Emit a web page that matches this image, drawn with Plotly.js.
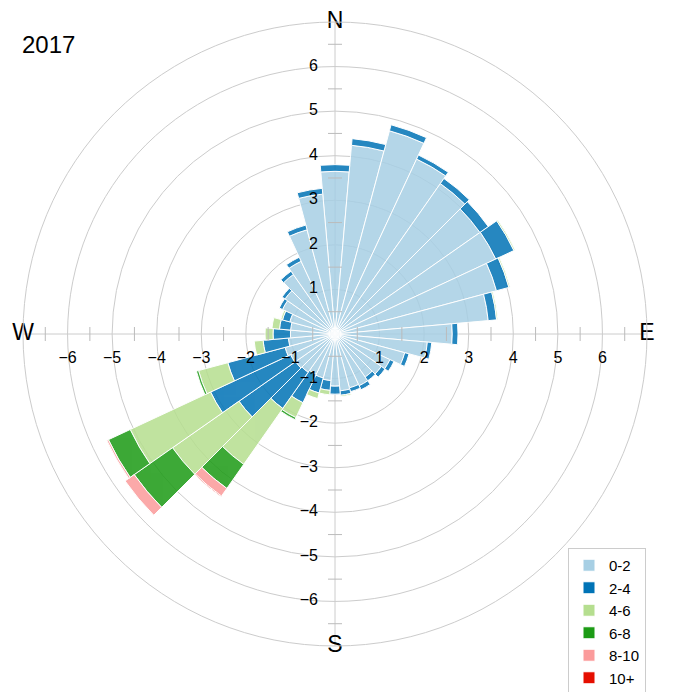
<!DOCTYPE html>
<html>
<head>
<meta charset="utf-8">
<script src="https://cdn.plot.ly/plotly-3.0.1.min.js"></script>
<style>html,body{margin:0;padding:0;background:#fff;}#chart{width:679px;height:692px;}</style>
</head>
<body>
<div id="chart"></div>
<script>
// Wind directions (degrees, clockwise from North)
const directions = [0,10,20,30,40,50,60,70,80,90,100,110,120,130,140,150,160,170,180,190,200,210,220,230,240,250,260,270,280,290,300,310,320,330,340,350];
// Speed bins (stacked)
const binNames = ["0-2","2-4","4-6","6-8","8-10","10+"];
const speed0_2  = [3.65,4.25,4.72,4.33,4.12,3.97,3.98,3.75,3.45,2.63,2.08,1.62,1.36,1.27,1.18,1.28,1.25,1.28,1.17,1.05,1.02,1.00,1.05,1.08,1.10,1.16,1.05,1.00,1.00,1.05,1.30,1.37,1.63,1.80,2.42,3.15];
const speed2_4  = [0.15,0.15,0.14,0.10,0.14,0.23,0.45,0.29,0.19,0.13,0.10,0.10,0.10,0.10,0.10,0.10,0.09,0.10,0.18,0.22,0.35,0.70,0.99,1.55,1.98,1.33,0.57,0.39,0.25,0.17,0.08,0.08,0.09,0.10,0.11,0.13];
const speed4_6  = [0,0,0,0,0,0,0.03,0.03,0.03,0,0,0,0,0,0,0,0,0.03,0,0.10,0.13,0.37,1.53,1.82,1.99,0.68,0.20,0.18,0.17,0.04,0,0,0,0,0,0];
const speed6_8  = [0,0,0,0,0,0,0,0,0,0,0,0,0,0,0,0,0,0,0,0,0,0.05,0.66,1.05,0.54,0.05,0,0,0,0,0,0,0,0,0,0];
const speed8_10 = [0,0,0,0,0,0,0,0,0,0,0,0,0,0,0,0,0,0,0,0,0,0,0.21,0.25,0.04,0,0,0,0,0,0,0,0,0,0,0];
const speed10p  = [0,0,0,0,0,0,0,0,0,0,0,0,0,0,0,0,0,0,0,0,0,0,0.02,0,0,0,0,0,0,0,0,0,0,0,0,0];
const binColors = ["#a7cfe4","#0073b6","#b5de8f","#1c9b15","#fb9b9b","#e50e00"];

// Axis labels
const tickValues = [1,2,3,4,5,6];
const posLabels = ["1","2","3","4","5","6"];
const negLabels = ["\u22121","\u22122","\u22123","\u22124","\u22125","\u22126"];
const halfTicks = [0.5,1.5,2.5,3.5,4.5,5.5,6.5];
const compassDirs = [0,90,180,270];
const compassLabels = ["N","E","S","W"];
const titleText = "2017";

const FONT = "Liberation Sans, Arial, Helvetica, sans-serif";
const series = [speed0_2, speed2_4, speed4_6, speed6_8, speed8_10, speed10p];

const data = series.map((vals, i) => ({
  type: "barpolar",
  name: binNames[i],
  r: vals,
  theta: directions,
  marker: {color: binColors[i], opacity: 0.85, line: {color: "#ffffff", width: 1}},
  hoverinfo: "skip"
}));

function rep(v){ return tickValues.map(() => v); }
function repH(v){ return halfTicks.map(() => v); }

// tick marks
data.push({type:"scatterpolar", mode:"markers", showlegend:false, hoverinfo:"skip", cliponaxis:false,
  r: halfTicks.concat(halfTicks), theta: repH(0).concat(repH(180)),
  marker:{symbol:"line-ew", size:10, color:"#bbbbbb", line:{color:"#bbbbbb", width:1}}});
data.push({type:"scatterpolar", mode:"markers", showlegend:false, hoverinfo:"skip", cliponaxis:false,
  r: halfTicks.concat(halfTicks), theta: repH(90).concat(repH(270)),
  marker:{symbol:"line-ns", size:10, color:"#bbbbbb", line:{color:"#bbbbbb", width:1}}});

const labelMarker = {size: 25.6, opacity: 0, color: "#fff"};
const labelFont = {family: FONT, size: 16, color: "#000"};
// vertical axis labels
data.push({type:"scatterpolar", mode:"markers+text", showlegend:false, hoverinfo:"skip", cliponaxis:false,
  r: tickValues, theta: rep(0), text: posLabels, textposition:"middle left", marker: labelMarker, textfont: labelFont});
data.push({type:"scatterpolar", mode:"markers+text", showlegend:false, hoverinfo:"skip", cliponaxis:false,
  r: tickValues, theta: rep(180), text: negLabels, textposition:"middle left", marker: labelMarker, textfont: labelFont});
// horizontal axis labels
data.push({type:"scatterpolar", mode:"markers+text", showlegend:false, hoverinfo:"skip", cliponaxis:false,
  r: tickValues, theta: rep(90), text: posLabels, textposition:"bottom center", marker: labelMarker, textfont: labelFont});
data.push({type:"scatterpolar", mode:"markers+text", showlegend:false, hoverinfo:"skip", cliponaxis:false,
  r: tickValues, theta: rep(270), text: negLabels, textposition:"bottom center", marker: labelMarker, textfont: labelFont});
// compass labels
data.push({type:"scatterpolar", mode:"text", showlegend:false, hoverinfo:"skip", cliponaxis:false,
  r: compassDirs.map(() => 7), theta: compassDirs, text: compassLabels, textposition:"middle center",
  textfont:{family: FONT, size: 23, color:"#000"}});

const W = 679, H = 692;
const layout = {
  width: W, height: H,
  margin: {l:0, r:0, t:0, b:0, autoexpand: false},
  paper_bgcolor: "#ffffff",
  font: {family: FONT, color: "#000"},
  title: {text: titleText, x: 22/W, xanchor: "left", xref: "paper", y: 1 - 45/H, yanchor: "middle", yref: "paper",
          font: {family: FONT, size: 24, color: "#000"}},
  showlegend: true,
  legend: {x: 568/W, y: 1 - 548/H, xanchor: "left", yanchor: "top", traceorder: "normal",
           bgcolor: "#ffffff", bordercolor: "#cccccc", borderwidth: 1,
           font: {family: FONT, size: 15, color: "#000"}},
  polar: {
    domain: {x: [23/W, 647/W], y: [46/H, 670/H]},
    bgcolor: "#ffffff",
    barmode: "stack",
    bargap: 0,
    radialaxis: {range: [0, 7], tickvals: [1,2,3,4,5,6,7], showticklabels: false, ticks: "",
                 showline: false, gridcolor: "#cccccc", gridwidth: 1},
    angularaxis: {rotation: 90, direction: "clockwise", tickvals: compassDirs, showticklabels: false, ticks: "",
                  gridcolor: "#cccccc", showline: true, linecolor: "#cccccc", linewidth: 1}
  }
};

Plotly.newPlot("chart", data, layout, {staticPlot: true, displayModeBar: false});
</script>
</body>
</html>
